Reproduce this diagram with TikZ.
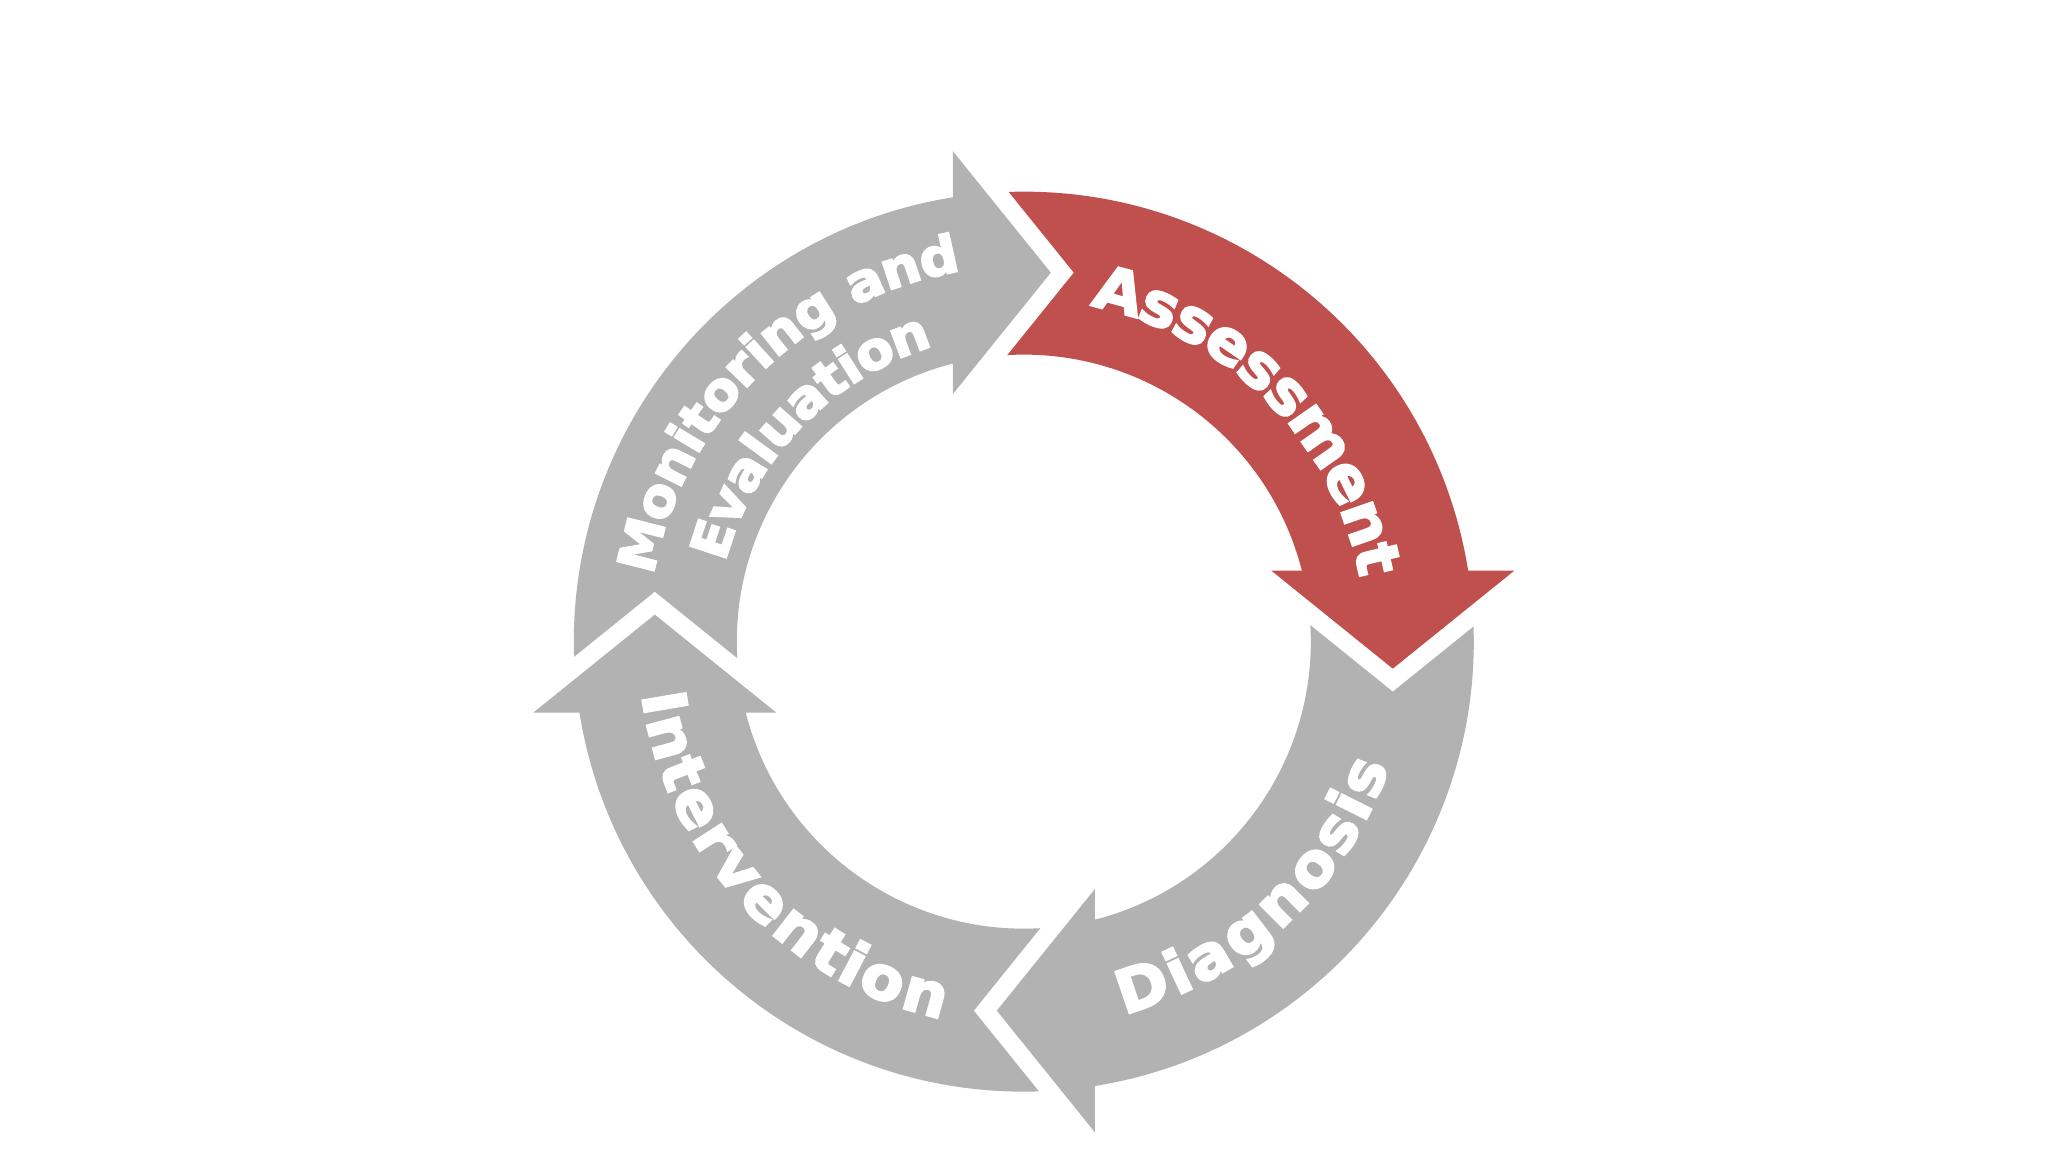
\documentclass[tikz,border=0pt]{standalone}
\usepackage{fontspec}
\newfontfamily\lblfont{DejaVu Sans Bold}[FakeBold=3.5,FakeStretch=1.05]
\usetikzlibrary{decorations.text}
\definecolor{cyred}{RGB}{192,80,77}
\definecolor{cygray}{RGB}{178,178,178}
\newcommand\lblbig{\lblfont\fontsize{17.07}{20}\selectfont}
\newcommand\lblsmall{\lblfont\fontsize{14.8}{18}\selectfont}
\tikzset{
  cyarrow/.pic={
    \path[pic actions] (91.93:450) arc[start angle=91.93,end angle=9.078,radius=450]
      -- (490.5,71) -- (369,-27) -- (247.5,71) -- (278.08,71)
      arc[start angle=14.32,end angle=93.30,radius=287] -- (50,369) -- cycle;
  },
  bigtext/.style={decorate, decoration={text along path, text={|\lblbig|#1},
      text align=fit to path, text color=white, raise=-6.2pt}},
  smalltext/.style={decorate, decoration={text along path, text={|\lblsmall|#1},
      text align=fit to path, text color=white, raise=-5.4pt}}
}
\begin{document}
\begin{tikzpicture}[x=0.01cm,y=0.01cm]
\fill[white] (0,0) rectangle (2048,1151);
\coordinate (C) at (1023.8,509.35);
\pic[fill=cyred] at (C) {cyarrow};
\pic[fill=cygray, rotate=-90] at (C) {cyarrow};
\pic[fill=cygray, rotate=180] at (C) {cyarrow};
\pic[fill=cygray, rotate=90] at (C) {cyarrow};
\begin{scope}[shift={(C)}]
\path[bigtext=Assessment] (78.6:364) arc[start angle=78.6,end angle=10.8,radius=364];
\path[bigtext=Diagnosis] (-75.2:364) arc[start angle=-75.2,end angle=-18.7,radius=364];
\path[bigtext=Intervention] (187.8:364) arc[start angle=187.8,end angle=258,radius=364];
\path[smalltext={Monitoring and}] (169.7:395) arc[start angle=169.7,end angle=99.7,radius=395];
\path[smalltext=Evaluation] (165:328) arc[start angle=165,end angle=107.2,radius=328];
\end{scope}
\end{tikzpicture}
\end{document}
